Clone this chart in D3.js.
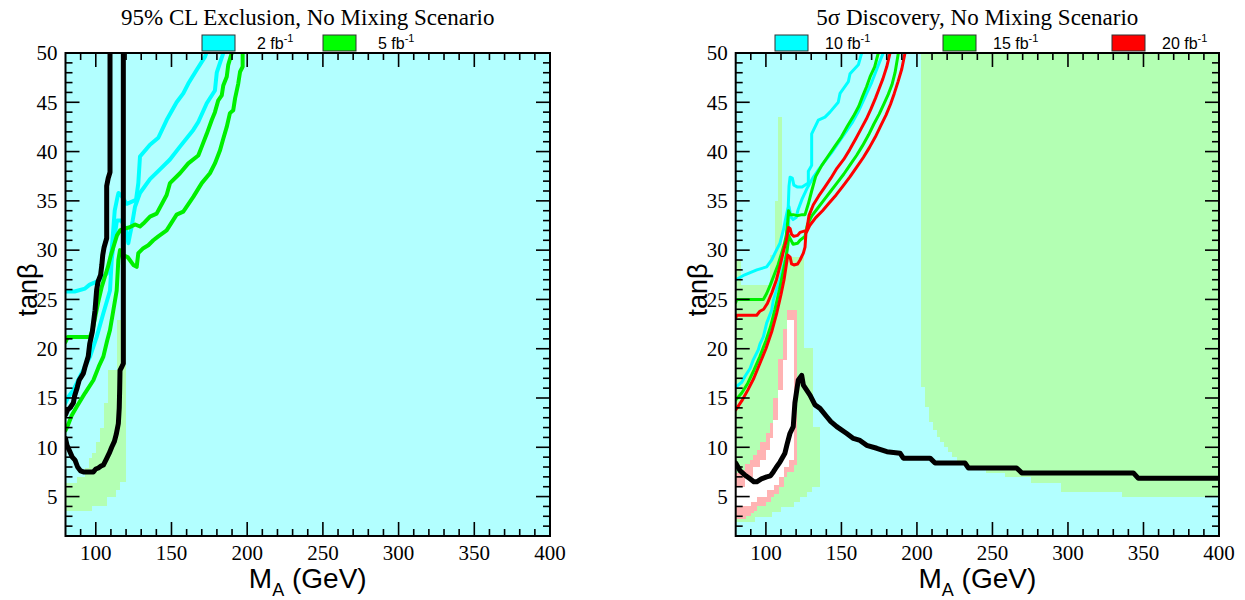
<!DOCTYPE html>
<html><head><meta charset="utf-8">
<script src="https://cdn.jsdelivr.net/npm/d3@7"></script>
<style>body{margin:0;background:#fff}svg{display:block}</style>
</head><body>
<svg id="c" width="1245" height="600"></svg>
<script>
// ---------------- data ----------------
const xMajorTicks = [100,150,200,250,300,350,400];
const yMajorTicks = [5,10,15,20,25,30,35,40,45,50];
const xDomain = [80,400];
const yDomain = [1,50];

// left panel: 95% CL exclusion
const leftTitle = "95% CL Exclusion, No Mixing Scenario";
const leftLegend = [{lumi:"2", color:"#00ffff"},{lumi:"5", color:"#00ff00"}];
// light green patch columns [mA0, mA1, tanLo, tanHi]
const leftGreenCols = [[80,87.8,3.5,6.4],[87.8,92.9,3.5,7.0],[92.9,95.5,3.5,7.9],[95.5,97.4,3.5,8.9],[97.4,100,4.0,9.4],[100,102.8,4.0,10.5],[102.8,105.6,4.0,12],[105.6,107.2,4.0,14.5],[107.2,108.3,5.0,14.5],[108.3,112.7,5.0,17.8],[112.7,113.8,5.7,17.8],[113.8,115.5,5.7,22.9],[115.5,119.8,6.5,22.9]];
const leftCyanA = [[80,25.8],[86,25.8],[92.9,26.1],[96,26.5],[100.6,26.8],[104,27.2],[107.2,27.6],[109.4,28.7],[110.5,30],[111.5,32],[112.5,34],[114.5,35.5],[115,35.8],[117,35.5],[120.4,34.7],[126.6,35.1],[128.1,36.8],[129.2,39.5],[135.8,40.7],[141.3,41.4],[146.8,43.2],[153.4,45.0],[157.8,45.9],[161.1,46.9],[166.7,48.3],[172.1,49.6],[173,50]];
const leftCyanB = [[80,14.5],[81.8,15.1],[85.2,15.8],[89.6,17.2],[96.2,19.2],[100.6,21.2],[105,23.6],[109.4,25.9],[110.5,29],[112,31],[114,33],[117,33],[120,32],[121.5,30.7],[122.5,31.5],[123.7,32.4],[125.9,34.4],[129.2,35.8],[135.8,37.2],[142.4,38.2],[149,39.2],[155.6,40.5],[164.4,42.2],[167.7,43],[173.3,44.9],[178.7,46.2],[179.9,48],[184.2,50]];
const leftGreenA = [[80,20.7],[81.5,21.2],[96.2,21.2],[98,22],[100,23.5],[102,25],[104,26.3],[106,27.3],[108,28.3],[110,29.5],[112,30.5],[114,31.5],[116,32],[119,32.2],[122,32.3],[126,32.6],[129.2,32.4],[131.4,32.7],[135.8,33.4],[140.2,33.7],[146.8,35.6],[149,36.8],[155.6,37.8],[161.1,38.8],[167.7,39.6],[170,40.5],[173.3,41.8],[176.6,43.2],[178.7,44],[180.9,45.2],[183.2,45.7],[184.2,46.7],[186.5,47.6],[187.5,48.8],[189.8,50]];
const leftGreenB = [[80,11.7],[81.8,12.3],[84,13.2],[87.4,14.1],[92.9,15.5],[98.4,16.8],[102,18.2],[105,19.2],[107.5,20.8],[109.4,21.9],[111.6,23.9],[113.8,25.9],[114.9,29],[116,30],[118,29.5],[121,29.3],[124.8,28.5],[127,28.3],[128.1,29.7],[131.4,30.2],[134.7,30.5],[138,31],[141.3,31.4],[146.8,32],[153.4,33.6],[157.8,33.9],[164.4,35.4],[170,36.8],[175.4,37.8],[178.7,38.8],[182,40.1],[184.2,41.3],[186.5,42.5],[188.6,43.9],[190.8,44.2],[192,45.4],[194.1,46.9],[195.3,48.1],[197,48.6],[197,50]];
const leftBlackA = [[109.4,50],[109.4,37.9],[108.2,37.3],[107.2,36.5],[107.2,31.2],[105.5,30.3],[104.6,29.5],[104,28.5],[103.2,27.5],[101.5,26.8],[100.6,26],[99.5,23.9],[97.7,21.7],[96,20.5],[95,19.2],[93,18.2],[91.8,17.5],[89,16.8],[87.8,16.1],[86,15.2],[85.2,14.5],[83,14.0],[81.4,13.8],[80,13.3]];
const leftBlackB = [[80,10.9],[81,10.2],[82.5,9.7],[84.5,9.0],[86.3,8.7],[88,8.0],[90,7.6],[91.8,7.5],[98.4,7.5],[100,7.8],[101.7,7.9],[103.5,8.1],[105,8.2],[107,8.8],[108.9,9.4],[110.5,10.0],[112.3,10.6],[113.5,11.3],[114.9,12.4],[115.5,14],[115.8,16],[116,17.8],[117,18.1],[118.2,18.5],[118.2,50]];

// right panel: 5 sigma discovery
const rightTitle = "5\u03c3 Discovery, No Mixing Scenario";
const rightLegend = [{lumi:"10", color:"#00ffff"},{lumi:"15", color:"#00ff00"},{lumi:"20", color:"#ff0000"}];
const rightGreenLeftCols = [[80,83,2.45,29.0],[83,92.7,2.45,26.5],[92.7,102.6,2.96,26.5],[102.6,103.7,2.96,29.5],[103.7,106,3.47,29.5],[106,108,3.47,35],[108,109.3,3.47,43.5],[109.3,110,3.97,43.5],[110,118.1,3.97,29.3],[118.1,122.5,4.48,29.3],[122.5,124.9,4.99,29.3],[124.9,126.9,4.99,20.1],[126.9,130.2,5.5,20.1],[130.2,130.5,6.0,20.1],[130.5,135.5,6.0,12.05]];
// big green region: [mA start, lower tanβ edge] up to tanβ = 50, ends at mA = 400
const rightGreenRightSteps = [[202.7,16.1],[205.3,14.1],[208.2,12.6],[210.9,11.75],[213.5,11.07],[215.4,10.56],[218,10.0],[220.8,9.5],[223.5,9.04],[226.3,8.5],[231.8,7.96],[245.7,7.42],[258.3,6.95],[275.5,6.4],[295.4,5.45],[335.6,4.95]];
const rightPinkCols = [[80,83,2.75,7.4],[83,86.2,2.75,7.7],[86.2,89.5,3.0,8.3],[89.5,91.7,3.3,8.7],[91.7,93.9,3.5,9.2],[93.9,96.1,4.0,9.7],[96.1,99.9,4.0,10.5],[99.9,102.7,4.5,11.5],[102.7,104.9,5.0,12.5],[104.9,108.2,5.3,15.0],[108.2,111.5,6.0,19.0],[111.5,113.9,7.0,22.0],[113.9,118.1,7.5,23.9],[118.1,120.3,8.2,23.9]];
const rightWhiteCols = [[80,86.2,4.0,6.0],[86.2,89.5,4.0,7.0],[89.5,91.7,4.5,7.0],[91.7,93.9,4.5,8.0],[93.9,96.1,5.0,8.0],[96.1,99.9,5.0,8.7],[99.9,100.5,5.0,9.7],[100.5,102.7,5.7,9.7],[102.7,104.9,5.7,10.9],[104.9,108.2,6.2,12.8],[108.2,111.5,7.0,15.8],[111.5,113.9,8.0,18.9],[113.9,114.8,8.0,22.9],[114.8,118.1,8.7,22.9]];
const rightCyanA = [[80,27.0],[86,27.5],[94,28.0],[100.5,28.3],[103.8,29],[106,29.7],[109.3,30.7],[111.5,32],[113.5,33.5],[114.8,34.4],[115.3,36.5],[116,37.4],[117.5,37.3],[118.5,36.6],[121,36.4],[124,36.4],[126,36.6],[128.1,36.8],[128.1,38.0],[130.3,38.6],[130.3,41.8],[134.7,43.2],[139.1,43.5],[142.4,44.0],[147.9,45.0],[149.1,45.9],[154.6,47.1],[155.7,47.9],[161.2,48.8],[163.4,50]];
const rightCyanB = [[80,16.1],[84,16.6],[86.2,17.2],[89.5,18],[91.7,18.9],[95,19.9],[96.1,20.5],[98.3,21.2],[100.5,22.6],[103.8,23.9],[104.9,24.9],[107.1,26],[109.3,27],[111.5,28.3],[113.8,29.7],[114.8,31],[115,32.5],[115.3,34.4],[116.5,33.4],[118,33.1],[120,33.3],[121.3,34.1],[124,35.2],[127,36.2],[131,37.3],[135,38.2],[139,39],[143.5,39.9],[148,40.9],[152,41.8],[157,42.9],[161,44],[164,45],[167,46],[170,47],[172.5,48],[175,49],[177.7,50]];
const rightGreenA = [[80,24.7],[80.7,25.0],[98.3,25.0],[100.5,25.6],[103,26.5],[105.5,27.5],[108,28.5],[110,29.5],[112,30.5],[113.5,31.5],[114.5,33],[115,34],[116,33.6],[118.1,33.6],[121,33.5],[124,33.6],[125.9,33.6],[128.1,34.7],[130.3,36.0],[133,37.5],[137,38.6],[141,39.5],[145.5,40.5],[150,41.5],[154,42.6],[158,43.6],[161.5,44.6],[164,45.6],[166.7,46.6],[169,47.6],[172,48.6],[174.4,50]];
const rightGreenB = [[80,14.8],[84,15.5],[88,16.5],[92,17.8],[96,19.2],[100,20.8],[103,22.2],[106,24],[109,26],[111,27.5],[113,29],[114.5,30.5],[115,31.5],[116,31.2],[118,30.6],[121,30.7],[122.6,31.0],[125.9,31.4],[127.5,32.6],[130.5,33.5],[134,34.2],[138,35.0],[142.5,35.9],[147,36.8],[151.5,37.7],[155.5,38.6],[160,39.6],[164,40.6],[168,41.7],[171.5,42.8],[175,43.8],[178,44.8],[181,45.8],[183.5,46.8],[185.5,48],[187.7,50]];
const rightRedA = [[80,23.1],[80.7,23.4],[93.9,23.4],[96,23.8],[98.5,24.0],[101,24.6],[104,25.7],[107,27],[109.5,28.5],[111.5,29.8],[113.5,31],[115,32.3],[116,32.2],[117,31.6],[118.5,31.4],[121,31.5],[122.6,31.8],[127,32],[128.5,33.5],[131.4,34.6],[135,35.5],[139,36.4],[143,37.3],[147,38.3],[151.5,39.2],[155.5,40.2],[159.5,41.3],[163,42.3],[166.5,43.3],[169.5,44.3],[172.5,45.4],[175,46.4],[177.5,47.4],[180,48.6],[182.2,50]];
const rightRedB = [[80,13.8],[84,14.7],[88,15.8],[92,17],[96,18.5],[100,20],[104,21.8],[107,23.5],[110,25.5],[112,27],[113.5,28.5],[114.5,29.5],[116,29.3],[117,28.6],[118.5,28.5],[121,28.6],[122.6,29.0],[124.8,29.7],[125.9,30.3],[126.5,31.7],[129,32.5],[133,33.3],[137.5,34.0],[142,34.8],[146.5,35.6],[151,36.5],[155.5,37.4],[160,38.4],[164.5,39.4],[168.5,40.4],[172.5,41.5],[176,42.6],[179.5,43.7],[182.5,44.8],[185,45.9],[187.5,47.1],[190,48.4],[192.1,50]];
const rightBlack = [[80,8.4],[83,7.6],[86,7.2],[89.5,6.8],[92,6.5],[93.9,6.5],[97,6.8],[100.5,7.0],[103,7.1],[104.9,7.5],[107,8.0],[109.3,8.5],[112.6,9.4],[114,10.3],[115.9,11.4],[118.1,12.1],[119.2,14.5],[121.4,16.8],[123.7,17.3],[124.8,16.3],[127,15.8],[129.2,15.3],[132.5,14.3],[135.8,13.95],[140.3,13.1],[143,12.6],[146.9,12.1],[153.5,11.4],[157.9,10.9],[162.3,10.7],[166.7,10.2],[173.4,9.9],[180.1,9.55],[188.8,9.4],[191,8.9],[208.7,8.9],[212,8.4],[231.8,8.4],[234.1,7.9],[266,7.9],[269.4,7.4],[343.3,7.4],[346.6,6.85],[400,6.85]];

// ---------------- drawing ----------------
const svg = d3.select("#c");
const BG_CYAN = "#b2ffff", BG_GREEN = "#b3ffb3", BG_PINK = "#ffb3b3";
const SERIF = '"Liberation Serif","DejaVu Serif","Times New Roman",serif';
const SANS = '"Liberation Sans",Arial,sans-serif';

function panel(cfg) {
  const x = d3.scaleLinear().domain(xDomain).range([cfg.x0, cfg.x1]);
  const y = d3.scaleLinear().domain(yDomain).range([cfg.y1, cfg.y0]);
  const g = svg.append("g");
  const clipId = "clip" + cfg.id;
  svg.append("clipPath").attr("id", clipId).append("rect")
    .attr("x", cfg.x0).attr("y", cfg.y0).attr("width", cfg.x1 - cfg.x0).attr("height", cfg.y1 - cfg.y0);
  const plot = g.append("g").attr("clip-path", `url(#${clipId})`);
  plot.append("rect").attr("x", cfg.x0).attr("y", cfg.y0).attr("width", cfg.x1 - cfg.x0).attr("height", cfg.y1 - cfg.y0).attr("fill", BG_CYAN);

  const drawCols = (cols, color) => plot.append("g").selectAll("rect").data(cols).join("rect")
    .attr("x", d => x(d[0])).attr("width", d => x(d[1]) - x(d[0]) + 0.6)
    .attr("y", d => y(d[3])).attr("height", d => y(d[2]) - y(d[3]))
    .attr("fill", color).attr("shape-rendering", "crispEdges");
  (cfg.regions || []).forEach(r => drawCols(r.cols, r.color));
  if (cfg.steps) {
    const cols = cfg.steps.map((s, i) => [s[0], i < cfg.steps.length - 1 ? cfg.steps[i + 1][0] : xDomain[1], s[1], yDomain[1]]);
    drawCols(cols, BG_GREEN);
  }
  const line = d3.line().x(d => x(d[0])).y(d => y(d[1]));
  cfg.lines.forEach(l => plot.append("path").attr("d", line(l.data)).attr("fill", "none")
    .attr("stroke", l.color).attr("stroke-width", l.w).attr("stroke-linejoin", "round").attr("stroke-linecap", "round"));

  // ticks on four sides
  const tk = g.append("g").attr("stroke", "#000").attr("stroke-width", 1.6);
  d3.range(90, 400, 10).forEach(v => {
    const L = (v % 50 === 0) ? 14 : 7;
    tk.append("line").attr("x1", x(v)).attr("x2", x(v)).attr("y1", cfg.y1).attr("y2", cfg.y1 - L);
    tk.append("line").attr("x1", x(v)).attr("x2", x(v)).attr("y1", cfg.y0).attr("y2", cfg.y0 + L);
  });
  d3.range(2, 50, 1).forEach(v => {
    const L = (v % 5 === 0) ? 14 : 7;
    tk.append("line").attr("y1", y(v)).attr("y2", y(v)).attr("x1", cfg.x0).attr("x2", cfg.x0 + L);
    tk.append("line").attr("y1", y(v)).attr("y2", y(v)).attr("x1", cfg.x1).attr("x2", cfg.x1 - L);
  });
  g.append("rect").attr("x", cfg.x0).attr("y", cfg.y0).attr("width", cfg.x1 - cfg.x0).attr("height", cfg.y1 - cfg.y0)
    .attr("fill", "none").attr("stroke", "#000").attr("stroke-width", 2);

  // tick labels
  g.append("g").selectAll("text").data(xMajorTicks).join("text").style("font-family", SERIF)
    .attr("x", d => x(d)).attr("y", cfg.y1 + 24).attr("text-anchor", "middle")
    .style("font-size", "21px").text(d => d);
  g.append("g").selectAll("text").data(yMajorTicks).join("text").style("font-family", SERIF)
    .attr("x", cfg.x0 - 8).attr("y", d => y(d)).attr("dy", "0.35em").attr("text-anchor", "end")
    .style("font-size", "21px").text(d => d);

  // axis titles
  const xl = g.append("text").style("font-family", SANS).attr("x", (cfg.x0 + cfg.x1) / 2).attr("y", 588).attr("text-anchor", "middle")
    .style("font-size", "28px");
  xl.append("tspan").text("M");
  xl.append("tspan").style("font-size", "18px").attr("dy", 8).text("A");
  xl.append("tspan").attr("dy", -8).text(" (GeV)");
  g.append("text").style("font-family", SANS).attr("transform", `translate(${cfg.x0 - 29},290) rotate(-90)`)
    .attr("text-anchor", "middle").style("font-size", "27px").text("tan\u03b2");

  // title
  g.append("text").style("font-family", SERIF).attr("x", (cfg.x0 + cfg.x1) / 2).attr("y", 25).attr("text-anchor", "middle")
    .style("font-size", "23px").text(cfg.title);

  // legend
  cfg.legend.forEach((d, i) => {
    const lx = cfg.legX[i];
    g.append("rect").attr("x", lx).attr("y", 35).attr("width", 33).attr("height", 16)
      .attr("fill", d.color).attr("stroke", "#333").attr("stroke-width", 1);
    const t = g.append("text").style("font-family", SANS).attr("x", lx + cfg.legTextDx).attr("y", 49).style("font-size", "16px");
    t.append("tspan").text(d.lumi + " fb");
    t.append("tspan").style("font-size", "11px").attr("dy", -7).text("-1");
  });
}

panel({id: "L", x0: 65.5, x1: 550, y0: 53, y1: 536, title: leftTitle, legend: leftLegend, legX: [202, 323], legTextDx: 55,
  regions: [{cols: leftGreenCols, color: BG_GREEN}],
  lines: [
    {data: leftCyanA, color: "#00ffff", w: 4}, {data: leftCyanB, color: "#00ffff", w: 4},
    {data: leftGreenA, color: "#00f000", w: 4}, {data: leftGreenB, color: "#00f000", w: 4},
    {data: leftBlackA, color: "#000", w: 5}, {data: leftBlackB, color: "#000", w: 5}]});

panel({id: "R", x0: 735.7, x1: 1219, y0: 53, y1: 536, title: rightTitle, legend: rightLegend, legX: [775, 943, 1112], legTextDx: 50,
  regions: [{cols: rightGreenLeftCols, color: BG_GREEN}, {cols: rightPinkCols, color: BG_PINK}, {cols: rightWhiteCols, color: "#ffffff"}],
  steps: rightGreenRightSteps,
  lines: [
    {data: rightCyanA, color: "#00ffff", w: 3}, {data: rightCyanB, color: "#00ffff", w: 3},
    {data: rightGreenA, color: "#00f000", w: 3}, {data: rightGreenB, color: "#00f000", w: 3},
    {data: rightRedA, color: "#ff0000", w: 3}, {data: rightRedB, color: "#ff0000", w: 3},
    {data: rightBlack, color: "#000", w: 5}]});
</script>
</body></html>
